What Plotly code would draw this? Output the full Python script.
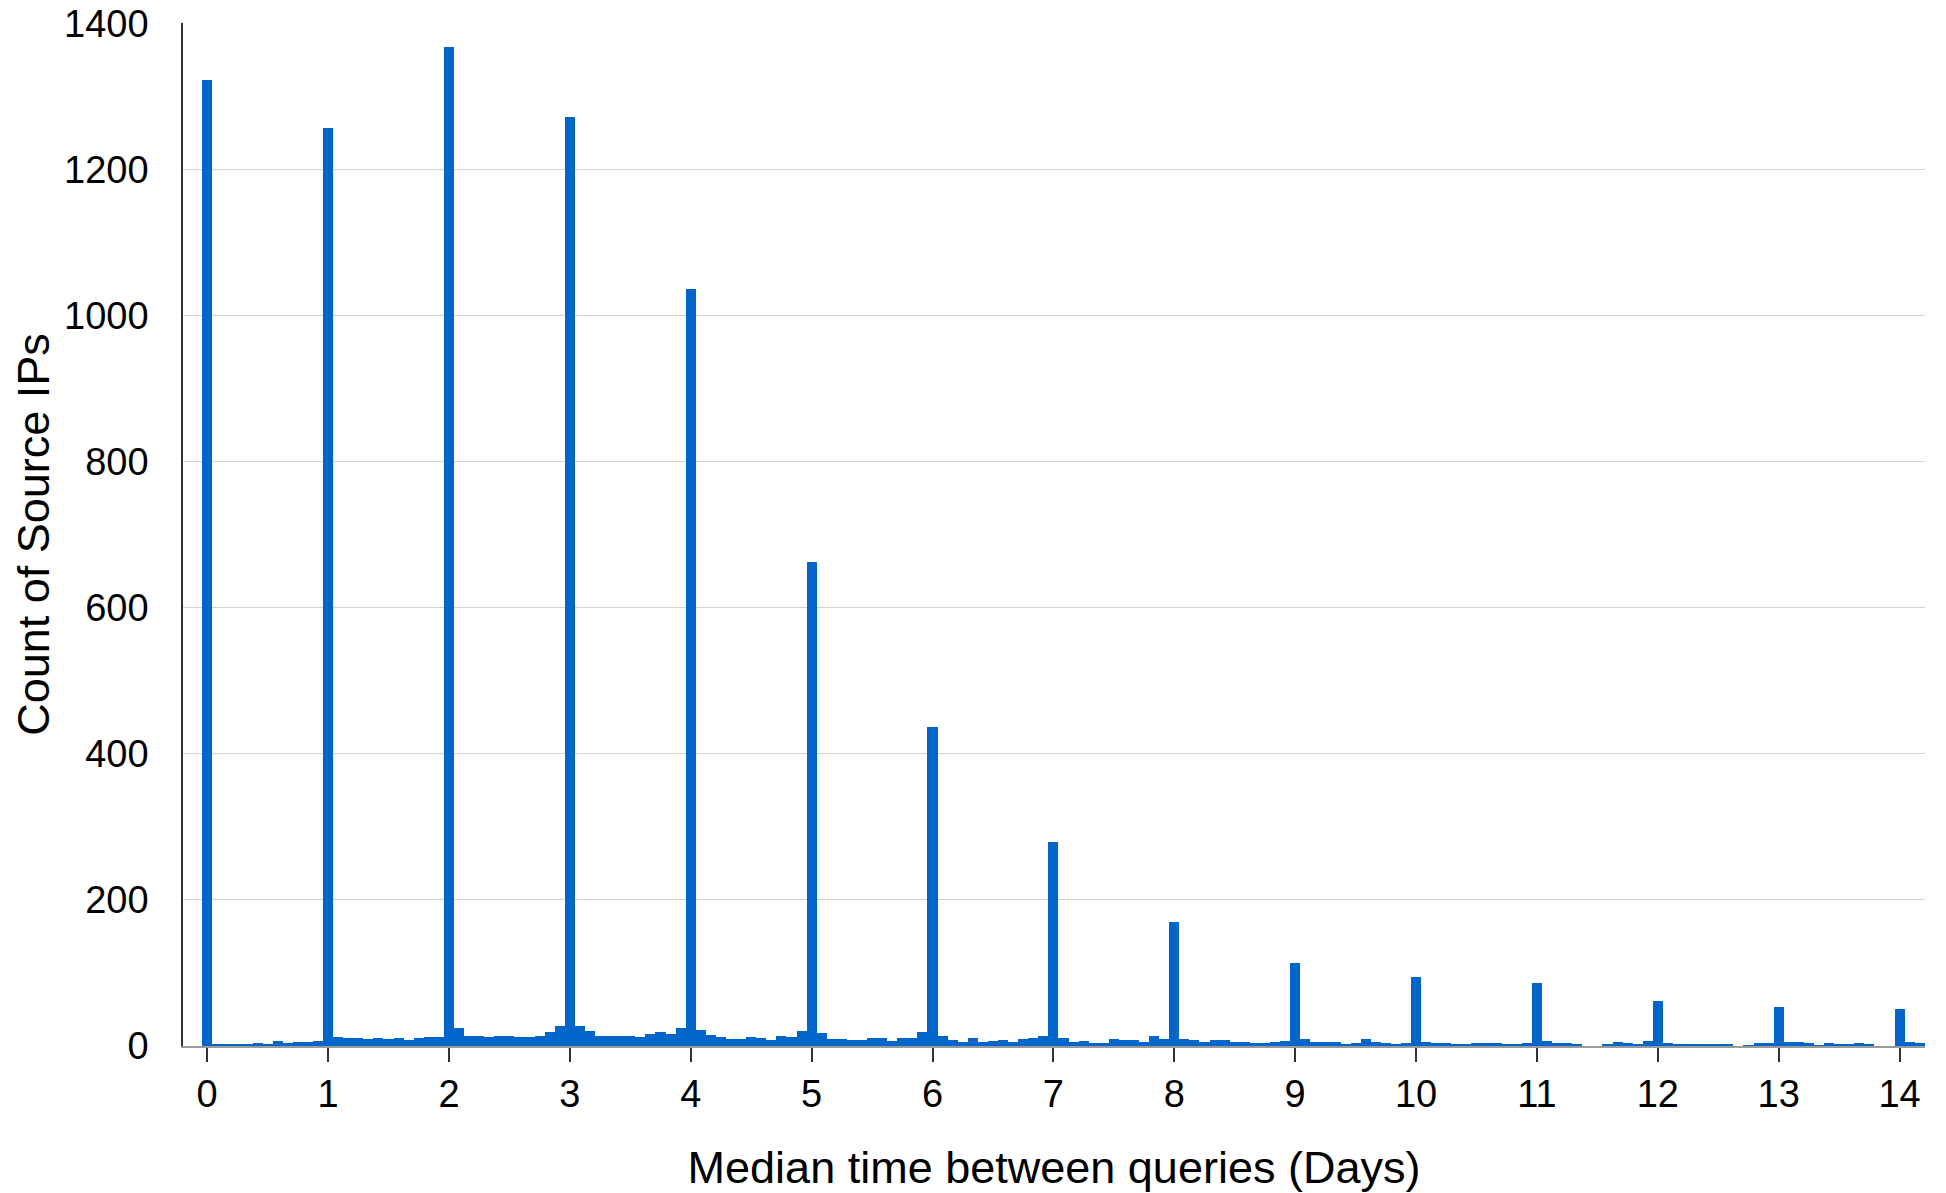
import plotly.graph_objects as go

# Histogram of median time between queries, 2-hour bins (12 per day), centred on bin_index/12 days
bin_width_days = 1 / 12
counts = [
    1322, 3, 2, 3, 3, 4, 2, 7, 4, 5, 6, 7,          # day 0
    1257, 13, 11, 11, 10, 11, 9, 11, 8, 11, 12, 13,  # day 1
    1368, 24, 14, 14, 13, 14, 14, 12, 12, 14, 19, 28,  # day 2
    1272, 28, 20, 14, 14, 14, 14, 13, 17, 19, 16, 25,  # day 3
    1037, 22, 15, 12, 10, 10, 13, 11, 8, 14, 13, 20,   # day 4
    662, 18, 9, 9, 8, 8, 11, 11, 7, 11, 11, 19,        # day 5
    437, 14, 8, 6, 11, 6, 7, 8, 5, 9, 11, 14,          # day 6
    279, 11, 6, 7, 4, 4, 9, 8, 8, 6, 14, 10,           # day 7
    170, 9, 8, 5, 8, 8, 6, 5, 4, 4, 6, 7,              # day 8
    113, 9, 5, 6, 6, 3, 4, 10, 5, 4, 2, 4,             # day 9
    94, 5, 4, 4, 2, 3, 4, 4, 4, 2, 2, 4,               # day 10
    86, 7, 4, 4, 3, 0, 0, 3, 5, 4, 3, 7,               # day 11
    62, 4, 3, 3, 3, 3, 3, 2, 0, 1, 4, 4,               # day 12
    54, 6, 5, 4, 1, 4, 2, 2, 4, 2, 0, 0,               # day 13
    50, 5, 4,                                          # day 14
]
bin_centres = [i * bin_width_days for i in range(len(counts))]

x_tick_values = list(range(0, 15))
x_tick_labels = [str(v) for v in x_tick_values]
y_tick_values = list(range(0, 1401, 200))
y_tick_labels = [str(v) for v in y_tick_values]

FONT = "Liberation Sans, Arial, Helvetica, sans-serif"

fig = go.Figure(
    go.Bar(
        x=bin_centres,
        y=counts,
        width=bin_width_days,
        marker=dict(color="#0066CC", line=dict(width=0)),
        hoverinfo="x+y",
    )
)

fig.update_layout(
    template="none",
    width=1946,
    height=1193,
    margin=dict(l=183, r=21, t=23, b=147, autoexpand=False),
    paper_bgcolor="white",
    plot_bgcolor="white",
    bargap=0,
    showlegend=False,
    font=dict(family=FONT, color="black"),
)

fig.update_xaxes(
    automargin=False,
    range=[-0.2, 14.21],
    tickmode="array",
    tickvals=x_tick_values,
    ticktext=x_tick_labels,
    ticks="outside",
    ticklen=14,
    tickwidth=1.5,
    tickcolor="#333333",
    tickfont=dict(size=38, family=FONT, color="black"),
    ticklabelstandoff=0,
    showgrid=False,
    zeroline=False,
    showline=True,
    linecolor="#9a9a9a",
    linewidth=1.5,
    title=dict(text="Median time between queries (Days)", font=dict(size=45, family=FONT, color="black"), standoff=38),
)

fig.update_yaxes(
    automargin=False,
    range=[0, 1400.6],
    tickmode="array",
    tickvals=y_tick_values,
    ticktext=y_tick_labels,
    ticks="",
    tickfont=dict(size=38, family=FONT, color="black"),
    ticklabelstandoff=25,
    ticklabeloverflow="allow",
    showgrid=True,
    gridcolor="#d3d3d3",
    gridwidth=1,
    zeroline=False,
    showline=True,
    linecolor="#333333",
    linewidth=1.5,
    title=dict(text="Count of Source IPs", font=dict(size=45, family=FONT, color="black"), standoff=0),
)

# remove the default 8px page margin so the figure sits at the window's top-left corner
fig.write_html(
    "out.html",
    config={"displayModeBar": False},
    post_script="document.body.style.margin='0';document.body.style.overflow='hidden';",
)
